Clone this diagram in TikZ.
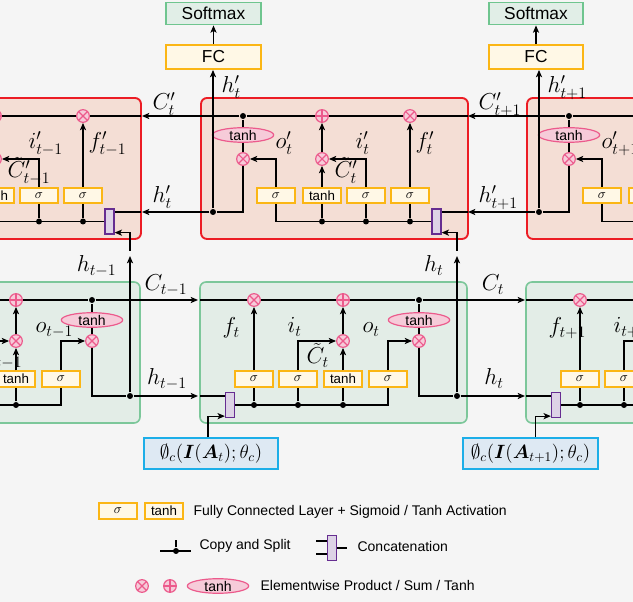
\documentclass[tikz,border=0pt]{standalone}
\usepackage{amsmath,amssymb,bm}
\usepackage{fontspec}
\setsansfont{Liberation Sans}
\usepackage{tikz}
\usetikzlibrary{arrows.meta, shapes.geometric, calc}

\definecolor{bggray}{HTML}{F5F5F5}
\definecolor{cellred}{HTML}{EC1C24}
\definecolor{cellredfill}{HTML}{F4DED5}
\definecolor{cellgreen}{HTML}{7CC79A}
\definecolor{cellgreenfill}{HTML}{E3EDE7}
\definecolor{gateamber}{HTML}{FBB615}
\definecolor{gatefill}{HTML}{FFF8E6}
\definecolor{oppink}{HTML}{EC5A8C}
\definecolor{oppinkfill}{HTML}{F6CBD9}
\definecolor{catpurple}{HTML}{662D91}
\definecolor{catfill}{HTML}{DDD3E6}
\definecolor{featblue}{HTML}{1CAEE8}
\definecolor{featfill}{HTML}{DEE9F3}
\definecolor{smgreen}{HTML}{6FC58F}
\definecolor{smfill}{HTML}{E1EEE7}

\begin{document}
\begin{tikzpicture}[
  x=0.75pt, y=-0.75pt,
  line width=0.9pt,
  every node/.style={font=\sffamily},
  arr/.style={-{Stealth[length=5.5pt,width=4.6pt,inset=1.4pt]}},
  redcell/.style={
    draw=cellred, fill=cellredfill, line width=1.4pt,
    rounded corners=4.5pt, inner sep=0,
    minimum width=200.25pt, minimum height=105.75pt
  },
  greencell/.style={
    draw=cellgreen, fill=cellgreenfill, line width=1.2pt,
    rounded corners=4.5pt, inner sep=0,
    minimum width=200.25pt, minimum height=105.75pt
  },
  gatebox/.style={
    draw=gateamber, fill=gatefill, line width=1.3pt, inner sep=0,
    minimum width=29pt, minimum height=11.5pt,
    font=\sffamily\fontsize{10}{10}\selectfont
  },
  mulop/.style={
    circle, draw=oppink, fill=oppinkfill, line width=0.9pt,
    minimum size=9.5pt, inner sep=0,
    path picture={\draw[oppink, line width=0.8pt]
      (path picture bounding box.north west) -- (path picture bounding box.south east)
      (path picture bounding box.north east) -- (path picture bounding box.south west);}
  },
  addop/.style={
    circle, draw=oppink, fill=oppinkfill, line width=0.9pt,
    minimum size=9.5pt, inner sep=0,
    path picture={\draw[oppink, line width=0.8pt]
      (path picture bounding box.north) -- (path picture bounding box.south)
      (path picture bounding box.west) -- (path picture bounding box.east);}
  },
  tanhop/.style={
    ellipse, draw=oppink, fill=oppinkfill, line width=0.9pt,
    minimum width=46pt, minimum height=10.5pt, inner sep=0,
    font=\sffamily\fontsize{10.5}{10.5}\selectfont
  },
  catbar/.style={
    draw=catpurple, fill=catfill, line width=1.2pt, inner sep=0,
    minimum width=6.5pt, minimum height=18.5pt
  },
  splitdot/.style={circle, fill=black, minimum size=4.5pt, inner sep=0},
  headbox/.style={
    draw=gateamber, fill=gatefill, line width=1.4pt, inner sep=0,
    minimum width=71pt, minimum height=18pt,
    font=\sffamily\fontsize{13}{13}\selectfont
  },
  smbox/.style={
    draw=smgreen, fill=smfill, line width=1.4pt, inner sep=0,
    minimum width=71pt, minimum height=16.5pt,
    font=\sffamily\fontsize{13}{13}\selectfont
  },
  featbox/.style={
    draw=featblue, fill=featfill, line width=1.4pt, inner sep=0,
    minimum width=101pt, minimum height=23pt,
    font=\fontsize{14.4}{14.4}\selectfont
  },
  lbl/.style={inner sep=0, font=\fontsize{17.28}{17.28}\selectfont},
  legtext/.style={inner sep=0, anchor=west, font=\sffamily\fontsize{10.5}{12}\selectfont},
]

\useasboundingbox (0,0) rectangle (633,602);

\begin{scope}
\clip (0,0) rectangle (633,602);
\fill[bggray] (0,0) rectangle (633,602);

% Output heads
\node[headbox] (fc1) at (213.5,57) {FC};
\node[smbox] (sm1) at (213.5,13.5) {Softmax};
\node[headbox] (fc2) at (536,57) {FC};
\node[smbox] (sm2) at (536,13.5) {Softmax};
\draw[arr] (fc1) -- (sm1);
\draw[arr] (fc2) -- (sm2);

\foreach \k/\o/\s in {0/-327/{t-1}, 1/0/t, 2/326/{t+1}}{
\begin{scope}[shift={(\o,0)}]
  % backward cell (upper row)
  \node[redcell] (rc\k) at (334.5,168.5) {};
  \node[splitdot] (rdot\k) at (243,116) {};
  \node[tanhop] (rt\k) at (243,135) {tanh};
  \node[mulop] (ro\k) at (243,159) {};
  \node[addop] (ra\k) at (322,116) {};
  \node[mulop] (ri\k) at (322,159) {};
  \node[mulop] (rf\k) at (410,116) {};
  \node[gatebox] (rgo\k) at (276,195.5) {$\sigma$};
  \node[gatebox] (rgc\k) at (322,195.5) {tanh};
  \node[gatebox] (rgi\k) at (366,195.5) {$\sigma$};
  \node[gatebox] (rgf\k) at (410,195.5) {$\sigma$};
  \node[catbar] (rcat\k) at (436.5,221.5) {};
  \node[splitdot] (rh\k) at (213,212) {};
  \node[splitdot] (rbc\k) at (322,221.5) {};
  \node[splitdot] (rbi\k) at (366,221.5) {};
  \node[splitdot] (rbf\k) at (410,221.5) {};
  \coordinate (rcin\k) at (468,116);
  \coordinate (rhin\k) at (468,212);
  \coordinate (rcout\k) at (142,116);
  \coordinate (rhout\k) at (142,212);

  \draw (rcat\k.west) -| (rgo\k.south);
  \draw (rbc\k) -- (rgc\k.south);
  \draw (rbi\k) -- (rgi\k.south);
  \draw (rbf\k) -- (rgf\k.south);
  \draw[arr] (rgo\k.north) |- (ro\k);
  \draw[arr] (rgc\k.north) -- (ri\k);
  \draw[arr] (rgi\k.north) |- (ri\k);
  \draw[arr] (ri\k) -- (ra\k);
  \draw[arr] (rgf\k.north) -- (rf\k);
  \draw (rdot\k) -- (rt\k) -- (ro\k);
  \draw (ro\k) |- (rh\k);
  \draw (rcin\k) -- (rf\k) -- (ra\k) -- (rdot\k);
  \draw[arr] (rdot\k) -- (rcout\k);
  \draw (rhin\k) -- (rhin\k -| rcat\k.east);
  \draw[arr] (rh\k) -- (rhout\k);

  \node[lbl, anchor=base west] (lo\k) at (275,149) {$o'_{\s}$};
  \node[lbl, anchor=base west] (li\k) at (355,149) {$i'_{\s}$};
  \node[lbl, anchor=base west] (lf\k) at (415,149) {$f'_{\s}$};
  \node[lbl, anchor=base west] (lct\k) at (334,178) {$\tilde{C}'_{\s}$};
  \node[lbl, anchor=base west] (lcb\k) at (152,110) {$C'_{\s}$};
  \node[lbl, anchor=base west] (lhb\k) at (152,203) {$h'_{\s}$};

  % forward cell (lower row)
  \node[greencell] (gc\k) at (333.5,352.5) {};
  \node[mulop] (gf\k) at (254,300) {};
  \node[addop] (ga\k) at (343,300) {};
  \node[splitdot] (gcd\k) at (419,300) {};
  \node[tanhop] (gt\k) at (419,320) {tanh};
  \node[mulop] (go\k) at (419,341) {};
  \node[mulop] (gi\k) at (343,341) {};
  \node[gatebox] (ggf\k) at (254,379) {$\sigma$};
  \node[gatebox] (ggi\k) at (298,379) {$\sigma$};
  \node[gatebox] (ggc\k) at (343,379) {tanh};
  \node[gatebox] (ggo\k) at (388,379) {$\sigma$};
  \node[catbar] (gcat\k) at (230,405) {};
  \node[splitdot] (ghd\k) at (457,396) {};
  \node[splitdot] (gbf\k) at (254,405) {};
  \node[splitdot] (gbi\k) at (298,405) {};
  \node[splitdot] (gbc\k) at (343,405) {};
  \coordinate (gcin\k) at (200,300);
  \coordinate (ghin\k) at (200,396);
  \coordinate (gcout\k) at (525,300);
  \coordinate (ghout\k) at (525,396);
  \coordinate (gup\k) at (457,256);
  \coordinate (rlow\k) at (457,251);

  \draw (gcat\k.east) -| (ggo\k.south);
  \draw (gbf\k) -- (ggf\k.south);
  \draw (gbi\k) -- (ggi\k.south);
  \draw (gbc\k) -- (ggc\k.south);
  \draw[arr] (ggf\k.north) -- (gf\k);
  \draw[arr] (ggi\k.north) |- (gi\k);
  \draw[arr] (ggc\k.north) -- (gi\k);
  \draw[arr] (gi\k) -- (ga\k);
  \draw[arr] (ggo\k.north) |- (go\k);
  \draw (gcd\k) -- (gt\k) -- (go\k);
  \draw (go\k) |- (ghd\k);
  \draw (gcin\k) -- (gf\k) -- (ga\k) -- (gcd\k);
  \draw[arr] (gcd\k) -- (gcout\k);
  \draw[arr] (ghd\k) -- (ghout\k);
  \draw[line width=1.8pt] (ghin\k) -- (ghin\k -| gcat\k.west);
  \draw[arr] (ghd\k) -- (gup\k);
  \draw[arr] (rlow\k) |- ([yshift=1.5pt]rcat\k.south east);

  \node[lbl, anchor=base west] (mf\k) at (222,334) {$f_{\s}$};
  \node[lbl, anchor=base west] (mi\k) at (287,333) {$i_{\s}$};
  \node[lbl, anchor=base west] (mo\k) at (362,333) {$o_{\s}$};
  \node[lbl, anchor=base west] (mct\k) at (306,364) {$\tilde{C}_{\s}$};
  \node[lbl, anchor=base] (mcb\k) at (493,291) {$C_{\s}$};
  \node[lbl, anchor=base] (mhb\k) at (494,385) {$h_{\s}$};
  \node[lbl, anchor=base east] (mhu\k) at (444,272) {$h_{\s}$};
\end{scope}
}

% hidden state up to the heads
\draw[arr] (rh1) -- (rh1 |- fc1.south);
\draw[arr] (rh2) -- (rh2 |- fc2.south);
\node[lbl, anchor=base west] (hu1) at (221,93) {$h'_t$};
\node[lbl, anchor=base west] (hu2) at (547,93) {$h'_{t+1}$};

% image features
\node[featbox] (phi1) at (211,453.5) {$\emptyset_c(\bm{I}(\bm{A}_t);\theta_c)$};
\node[featbox] (phi2) at (530.5,453.5) {$\emptyset_c(\bm{I}(\bm{A}_{t+1});\theta_c)$};
\draw[arr] ([xshift=-2.25pt]phi1.north) |- ([yshift=1.5pt]gcat1.south west);
\draw[arr] ([xshift=4pt]phi2.north) |- ([yshift=1.5pt]gcat2.south west);
\end{scope}

% Legend
\node[gatebox] (lgs) at (118,511) {$\sigma$};
\node[gatebox] (lgt) at (164,511) {tanh};
\node[legtext] (lgtx) at (193,512) {Fully Connected Layer + Sigmoid / Tanh Activation};

\node[splitdot] (lsd) at (176,551) {};
\coordinate (lsa) at (160,551);
\coordinate (lsb) at (191,551);
\coordinate (lsc) at (176,540);
\draw (lsa) -- (lsb);
\draw (lsd) -- (lsc);
\node[legtext] (lstx) at (199,546) {Copy and Split};

\node[catbar] (lcat) at (332,548) {};
\coordinate (lca) at (316,541);
\coordinate (lcb) at (316,554);
\coordinate (lcc) at (347,548);
\draw (lca) -- (lca -| lcat.west);
\draw (lcb) -- (lcb -| lcat.west);
\draw (lcat.east) -- (lcc);
\node[legtext] (lctx) at (357,546) {Concatenation};

\node[mulop] (lmul) at (142,586) {};
\node[addop] (ladd) at (170,586) {};
\node[tanhop] (ltanh) at (218,586) {tanh};
\node[legtext] (lotx) at (260,585) {Elementwise Product / Sum / Tanh};

\end{tikzpicture}
\end{document}
